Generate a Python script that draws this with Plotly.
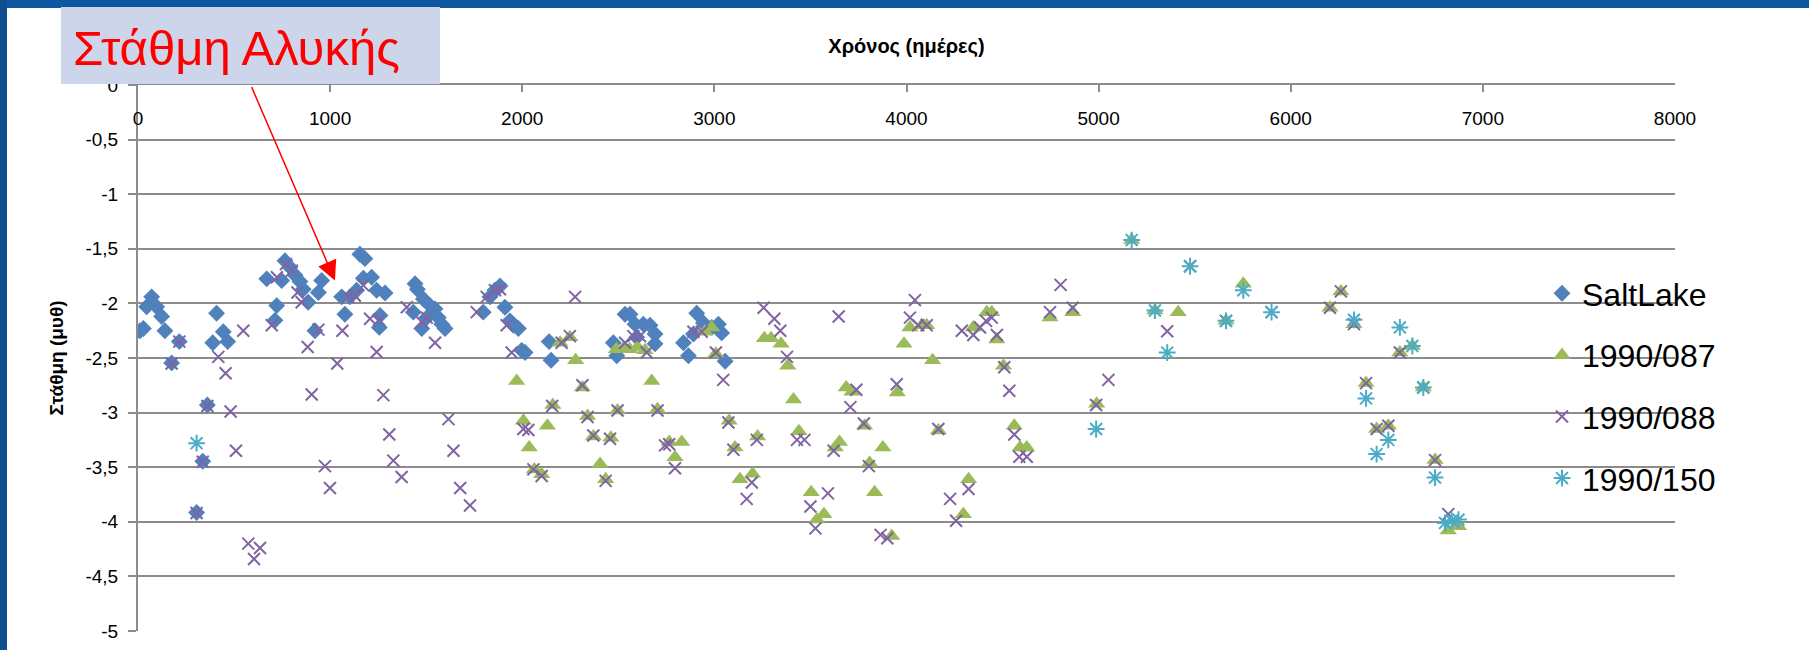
import plotly.graph_objects as go

W, H = 1809, 650

# ---------------- data ----------------
salt_x = [10, 28, 45, 71, 97, 123, 140, 175, 215, 305, 337, 361, 389, 409, 444, 467,
          670, 713, 722, 748, 765, 791, 817, 843, 860, 886, 921, 939, 956,
          1060, 1077, 1103, 1138, 1155, 1173, 1181, 1216, 1242, 1256, 1260, 1286,
          1433, 1442, 1454, 1477, 1485, 1503, 1520, 1546, 1563, 1581, 1598,
          1797, 1832, 1858, 1884, 1910, 1936, 1954, 1980, 1997, 2015, 2140, 2150,
          2474, 2492, 2535, 2561, 2587, 2596, 2630, 2665, 2691, 2691,
          2839, 2865, 2891, 2908, 2943, 2986, 3021, 3038, 3056]
salt_y = [-2.25, -2.23, -2.03, -1.94, -2.03, -2.12, -2.25, -2.545, -2.35, -3.915, -3.445, -2.93, -2.36, -2.09, -2.26, -2.35,
          -1.775, -2.155, -2.02, -1.79, -1.61, -1.67, -1.74, -1.80, -1.87, -1.99, -2.25, -1.90, -1.79,
          -1.94, -2.10, -1.94, -1.88, -1.55, -1.77, -1.59, -1.76, -1.88, -2.22, -2.11, -1.905,
          -2.08, -1.82, -1.87, -2.23, -1.96, -2.13, -2.02, -2.05, -2.13, -2.19, -2.23,
          -2.08, -1.94, -1.88, -1.84, -2.035, -2.16, -2.20, -2.23, -2.43, -2.45, -2.35, -2.52,
          -2.36, -2.48, -2.10, -2.10, -2.19, -2.31, -2.19, -2.20, -2.28, -2.37,
          -2.36, -2.48, -2.28, -2.09, -2.18, -2.22, -2.19, -2.27, -2.53]

b087_x = [1971, 2006, 2036, 2063, 2101, 2131, 2159, 2197, 2248, 2278, 2313, 2340, 2370, 2405, 2434, 2461,
          2490, 2496, 2527, 2560, 2600, 2639, 2674, 2704, 2765, 2795, 2830, 2951, 2986, 3007,
          3077, 3107, 3133, 3199, 3225, 3260, 3295, 3347, 3382, 3412, 3440, 3504, 3534, 3570,
          3629, 3651, 3686, 3716, 3782, 3808, 3834, 3877, 3923, 3952, 3987, 4018, 4079, 4105,
          4136, 4166, 4296, 4323, 4348, 4418, 4444, 4470, 4505, 4561, 4591, 4626, 4747, 4865,
          4990, 5172, 5293, 5414, 5663, 5753, 6204, 6261, 6329, 6392, 6447, 6508, 6568, 6633,
          6690, 6751, 6820, 6873]
b087_y = [-2.71, -3.075, -3.32, -3.52, -3.565, -3.12, -2.93, -2.36, -2.31, -2.52, -2.77, -3.03, -3.22, -3.47, -3.61, -3.23,
          -2.42, -2.98, -2.41, -2.42, -2.40, -2.43, -2.71, -2.97, -3.27, -3.41, -3.27, -2.26, -2.22, -2.46,
          -3.075, -3.32, -3.61, -3.56, -3.22, -2.32, -2.32, -2.37, -2.57, -2.88, -3.17, -3.73, -3.98, -3.93,
          -3.32, -3.27, -2.77, -2.81, -3.12, -3.46, -3.73, -3.32, -4.13, -2.815, -2.37, -2.22, -2.20, -2.20,
          -2.52, -3.165, -3.93, -3.61, -2.22, -2.08, -2.08, -2.33, -2.57, -3.12, -3.32, -3.32, -2.13, -2.08,
          -2.92, -1.42, -2.065, -2.08, -2.16, -1.82, -2.04, -1.89, -2.19, -2.73, -3.15, -3.12, -2.45, -2.39,
          -2.77, -3.435, -4.08, -4.04]

b088_x = [175, 215, 305, 337, 361, 418, 456, 482, 510, 548, 574, 604, 635, 696, 723, 770, 801, 830,
          852, 883, 904, 939, 973, 999, 1037, 1064, 1095, 1129, 1173, 1208, 1242, 1255, 1277, 1308,
          1329, 1372, 1399, 1477, 1503, 1546, 1616, 1642, 1677, 1728, 1763, 1815, 1858, 1884, 1919,
          1945, 2006, 2032, 2058, 2101, 2156, 2205, 2248, 2275, 2313, 2340, 2370, 2434, 2457, 2496,
          2535, 2578, 2613, 2648, 2704, 2743, 2765, 2795, 2891, 2934, 3008, 3046, 3073, 3099, 3168,
          3195, 3221, 3256, 3312, 3343, 3378, 3430, 3469, 3500, 3526, 3591, 3621, 3647, 3708, 3739,
          3778, 3804, 3865, 3900, 3949, 4018, 4044, 4061, 4105, 4166, 4227, 4258, 4288, 4323, 4348,
          4383, 4414, 4444, 4470, 4509, 4535, 4561, 4587, 4626, 4747, 4802, 4865, 4987, 5051, 5357,
          5476, 5663, 5900, 6204, 6261, 6329, 6392, 6447, 6508, 6568, 6690, 6751, 6820]
b088_y = [-2.55, -2.35, -3.92, -3.45, -2.94, -2.49, -2.64, -2.99, -3.35, -2.25, -4.20, -4.34, -4.24, -2.20, -1.76, -1.64, -1.70, -1.90,
          -1.99, -2.40, -2.835, -2.24, -3.49, -3.69, -2.55, -2.25, -1.94, -1.93, -1.835, -2.14, -2.445, -2.15, -2.84, -3.20,
          -3.44, -3.59, -2.035, -2.17, -2.13, -2.36, -3.06, -3.35, -3.69, -3.85, -2.08, -1.94, -1.88, -1.87, -2.20,
          -2.45, -3.15, -3.16, -3.52, -3.58, -2.94, -2.36, -2.30, -1.94, -2.75, -3.04, -3.21, -3.625, -3.24, -2.98,
          -2.36, -2.30, -2.30, -2.45, -2.98, -3.30, -3.29, -3.51, -2.26, -2.26, -2.45, -2.70, -3.09, -3.34, -3.79,
          -3.64, -3.25, -2.04, -2.14, -2.25, -2.49, -3.25, -3.25, -3.86, -4.06, -3.74, -3.35, -2.12, -2.95, -2.79,
          -3.10, -3.49, -4.12, -4.15, -2.74, -2.13, -1.97, -2.20, -2.20, -3.15, -3.79, -3.99, -2.25, -3.70, -2.29,
          -2.22, -2.16, -2.13, -2.29, -2.585, -2.80, -3.20, -3.405, -3.405, -2.08, -1.83, -2.04, -2.93, -2.70, -2.255,
          -1.66, -2.16, -2.08, -2.04, -1.89, -2.19, -2.73, -3.15, -3.12, -2.45, -2.77, -3.435, -3.93]

b150_x = [305, 4987, 5172, 5293, 5357, 5476, 5663, 5753, 5900, 6329, 6392, 6447, 6508, 6568, 6633,
          6690, 6751, 6803, 6838, 6873]
b150_y = [-3.28, -3.15, -1.42, -2.065, -2.45, -1.66, -2.16, -1.88, -2.08, -2.15, -2.87, -3.38, -3.25, -2.22, -2.39,
          -2.77, -3.595, -4.01, -3.99, -3.98]

series_names = ["SaltLake", "1990/087", "1990/088", "1990/150"]
y_tick_vals = [0, -0.5, -1, -1.5, -2, -2.5, -3, -3.5, -4, -4.5, -5]
y_tick_text = ["0", "-0,5", "-1", "-1,5", "-2", "-2,5", "-3", "-3,5", "-4", "-4,5", "-5"]
x_tick_vals = [0, 1000, 2000, 3000, 4000, 5000, 6000, 7000, 8000]

chart_title = "Στάθμη Αλυκής"
x_title = "Χρόνος (ημέρες)"
y_title = "Στάθμη (μυθ)"

# ---------------- layout geometry ----------------
ML, MR, MT, MB = 138, 134, 85, 19
PW = W - ML - MR
PH = H - MT - MB


def px_x(px):
    return (px - ML) / PW


def px_y(py):
    return (H - MB - py) / PH


FONT = "Liberation Sans"
GRID = "#8C8C8C"

fig = go.Figure()
fig.add_trace(go.Scatter(x=salt_x, y=salt_y, mode="markers", name=series_names[0],
                         legendgroup="g1",
                         marker=dict(symbol="diamond", size=13, color="#4F81BD")))
fig.add_trace(go.Scatter(x=b087_x, y=b087_y, mode="markers", name=series_names[1],
                         legendgroup="g2",
                         marker=dict(symbol="triangle-up", size=15, color="#9BBB59")))
fig.add_trace(go.Scatter(x=b088_x, y=b088_y, mode="markers", name=series_names[2],
                         legendgroup="g3",
                         marker=dict(symbol="x-thin-open", size=12, color="#8064A2",
                                     line=dict(width=2, color="#8064A2"))))
fig.add_trace(go.Scatter(x=b150_x, y=b150_y, mode="markers", name=series_names[3],
                         legendgroup="g4",
                         marker=dict(symbol="asterisk-open", size=14, color="#4BACC6",
                                     line=dict(width=2, color="#4BACC6"))))

fig.update_layout(
    template="none",
    width=W, height=H,
    margin=dict(l=ML, r=MR, t=MT, b=MB, pad=0),
    paper_bgcolor="white", plot_bgcolor="white",
    font=dict(family=FONT, size=19, color="#000000"),
    showlegend=True,
    legend=dict(x=px_x(1542), xanchor="left", y=px_y(266), yanchor="top",
                bgcolor="rgba(0,0,0,0)", borderwidth=0,
                font=dict(family=FONT, size=32, color="#000000"),
                traceorder="grouped", tracegroupgap=17),
    xaxis=dict(range=[0, 8000], side="top", tickvals=x_tick_vals,
               ticks="inside", ticklen=7, tickcolor=GRID, tickwidth=1.5,
               ticklabelposition="inside", ticklabeloverflow="allow",
               ticklabelstandoff=21,
               showline=True, linecolor=GRID, linewidth=2,
               showgrid=False, zeroline=False, automargin=False,
               tickfont=dict(family=FONT, size=19, color="#000000"),
               title=dict(text="<b>" + x_title + "</b>", standoff=50,
                          font=dict(family=FONT, size=20, color="#000000"))),
    yaxis=dict(range=[-5, 0], tickvals=y_tick_vals, ticktext=y_tick_text,
               ticks="outside", ticklen=8, tickcolor=GRID, tickwidth=1.5,
               ticklabelstandoff=6,
               showline=True, linecolor=GRID, linewidth=2,
               showgrid=True, gridcolor=GRID, gridwidth=2,
               zeroline=False, automargin=False,
               tickfont=dict(family=FONT, size=19, color="#000000"),
               title=dict(text="<b>" + y_title + "</b>", standoff=17,
                          font=dict(family=FONT, size=19, color="#000000"))),
)

# slide frame (blue bands) and title box
fig.add_shape(type="rect", xref="paper", yref="paper",
              x0=px_x(0), x1=px_x(W), y0=px_y(8), y1=px_y(0),
              fillcolor="#0D58A0", line=dict(width=0), layer="above")
fig.add_shape(type="rect", xref="paper", yref="paper",
              x0=px_x(0), x1=px_x(7), y0=px_y(H), y1=px_y(0),
              fillcolor="#0E4F8E", line=dict(width=0), layer="above")
fig.add_shape(type="rect", xref="paper", yref="paper",
              x0=px_x(61), x1=px_x(440), y0=px_y(84), y1=px_y(7),
              fillcolor="#CCD5EA", line=dict(width=0), layer="above")

# red arrow pointing at the data
fig.add_annotation(x=1025, y=-1.79, xref="x", yref="y", text="",
                   showarrow=True, ax=-84, ay=-195, axref="pixel", ayref="pixel",
                   arrowhead=2, arrowsize=2.6, arrowwidth=1.5, arrowcolor="#FF0000",
                   standoff=0, startstandoff=0)
fig.add_annotation(x=px_x(71), y=px_y(48), xref="paper", yref="paper",
                   xanchor="left", yanchor="middle", showarrow=False,
                   text=chart_title,
                   font=dict(family=FONT, size=49, color="#FF0000"))

fig.write_html("out.html",
               config={"displayModeBar": False},
               post_script="document.body.style.margin='0';document.body.style.overflow='hidden';")
